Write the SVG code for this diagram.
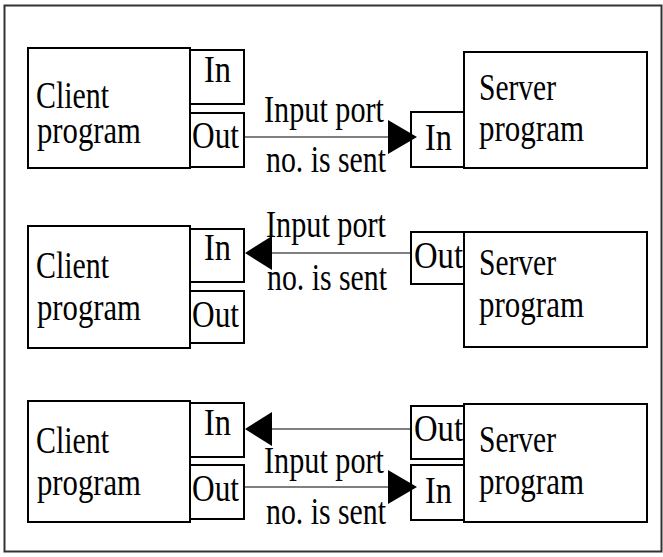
<svg xmlns="http://www.w3.org/2000/svg" width="663" height="557" viewBox="0 0 663 557">
<style>
.box{fill:#fff;stroke:#000;stroke-width:2}
.t{font-family:"Liberation Serif","Times New Roman",serif;font-size:38px;fill:#000}
.c{stroke:#000;stroke-width:1;fill:none}
.ah{fill:#000;stroke:none}
.frame{fill:none;stroke:#333;stroke-width:2}
</style>
<rect class="frame" x="4.5" y="5.5" width="657" height="546"/>

<g id="client1">
<rect class="box" x="28" y="48" width="162" height="120"/>
<text class="t" x="36" y="108" textLength="73" lengthAdjust="spacingAndGlyphs">Client</text>
<text class="t" x="37" y="143" textLength="104" lengthAdjust="spacingAndGlyphs">program</text>
</g>
<g id="client1-in">
<rect class="box" x="190" y="50" width="54" height="54"/>
<text class="t" x="204" y="82" textLength="27" lengthAdjust="spacingAndGlyphs">In</text>
</g>
<g id="client1-out">
<rect class="box" x="190" y="113" width="54" height="54"/>
<text class="t" x="192" y="148" textLength="47" lengthAdjust="spacingAndGlyphs">Out</text>
</g>
<g id="server1">
<rect class="box" x="464" y="52" width="183" height="116"/>
<text class="t" x="479" y="100" textLength="77" lengthAdjust="spacingAndGlyphs">Server</text>
<text class="t" x="479" y="141" textLength="105" lengthAdjust="spacingAndGlyphs">program</text>
</g>
<g id="server1-in">
<rect class="box" x="411" y="112" width="53" height="55"/>
<text class="t" x="425" y="150" textLength="27" lengthAdjust="spacingAndGlyphs">In</text>
</g>

<g id="client2">
<rect class="box" x="28" y="226" width="162" height="122"/>
<text class="t" x="36" y="278" textLength="73" lengthAdjust="spacingAndGlyphs">Client</text>
<text class="t" x="37" y="320" textLength="104" lengthAdjust="spacingAndGlyphs">program</text>
</g>
<g id="client2-in">
<rect class="box" x="190" y="229" width="54" height="53"/>
<text class="t" x="204" y="260" textLength="27" lengthAdjust="spacingAndGlyphs">In</text>
</g>
<g id="client2-out">
<rect class="box" x="190" y="291" width="54" height="52"/>
<text class="t" x="192" y="327" textLength="47" lengthAdjust="spacingAndGlyphs">Out</text>
</g>
<g id="server2">
<rect class="box" x="464" y="232" width="183" height="115"/>
<text class="t" x="479" y="275" textLength="77" lengthAdjust="spacingAndGlyphs">Server</text>
<text class="t" x="479" y="317" textLength="105" lengthAdjust="spacingAndGlyphs">program</text>
</g>
<g id="server2-out">
<rect class="box" x="411" y="232" width="53" height="52"/>
<text class="t" x="414" y="268" textLength="49" lengthAdjust="spacingAndGlyphs">Out</text>
</g>

<g id="client3">
<rect class="box" x="28" y="401" width="162" height="121"/>
<text class="t" x="36" y="453" textLength="73" lengthAdjust="spacingAndGlyphs">Client</text>
<text class="t" x="37" y="495" textLength="104" lengthAdjust="spacingAndGlyphs">program</text>
</g>
<g id="client3-in">
<rect class="box" x="190" y="403" width="54" height="54"/>
<text class="t" x="204" y="435" textLength="27" lengthAdjust="spacingAndGlyphs">In</text>
</g>
<g id="client3-out">
<rect class="box" x="190" y="465" width="54" height="54"/>
<text class="t" x="192" y="501" textLength="47" lengthAdjust="spacingAndGlyphs">Out</text>
</g>
<g id="server3">
<rect class="box" x="464" y="404" width="183" height="118"/>
<text class="t" x="479" y="452" textLength="77" lengthAdjust="spacingAndGlyphs">Server</text>
<text class="t" x="479" y="494" textLength="105" lengthAdjust="spacingAndGlyphs">program</text>
</g>
<g id="server3-out">
<rect class="box" x="411" y="406" width="53" height="53"/>
<text class="t" x="414" y="441" textLength="49" lengthAdjust="spacingAndGlyphs">Out</text>
</g>
<g id="server3-in">
<rect class="box" x="411" y="465" width="53" height="55"/>
<text class="t" x="425" y="503" textLength="27" lengthAdjust="spacingAndGlyphs">In</text>
</g>

<g id="connectors">
<line class="c" x1="244" y1="137" x2="390" y2="137"/>
<polygon class="ah" points="388,120 417,137 388,154"/>
<text class="t" x="264" y="122" textLength="120" lengthAdjust="spacingAndGlyphs">Input port</text>
<text class="t" x="266" y="172" textLength="120" lengthAdjust="spacingAndGlyphs">no. is sent</text>

<line class="c" x1="411" y1="253" x2="270" y2="253"/>
<polygon class="ah" points="272,236 245,253 272,270"/>
<text class="t" x="266" y="237" textLength="120" lengthAdjust="spacingAndGlyphs">Input port</text>
<text class="t" x="267" y="290" textLength="120" lengthAdjust="spacingAndGlyphs">no. is sent</text>

<line class="c" x1="411" y1="429" x2="270" y2="429"/>
<polygon class="ah" points="272,412 245,429 272,446"/>

<line class="c" x1="244" y1="487" x2="390" y2="487"/>
<polygon class="ah" points="388,470 417,487 388,504"/>
<text class="t" x="264" y="473" textLength="120" lengthAdjust="spacingAndGlyphs">Input port</text>
<text class="t" x="266" y="524" textLength="120" lengthAdjust="spacingAndGlyphs">no. is sent</text>
</g>
</svg>
